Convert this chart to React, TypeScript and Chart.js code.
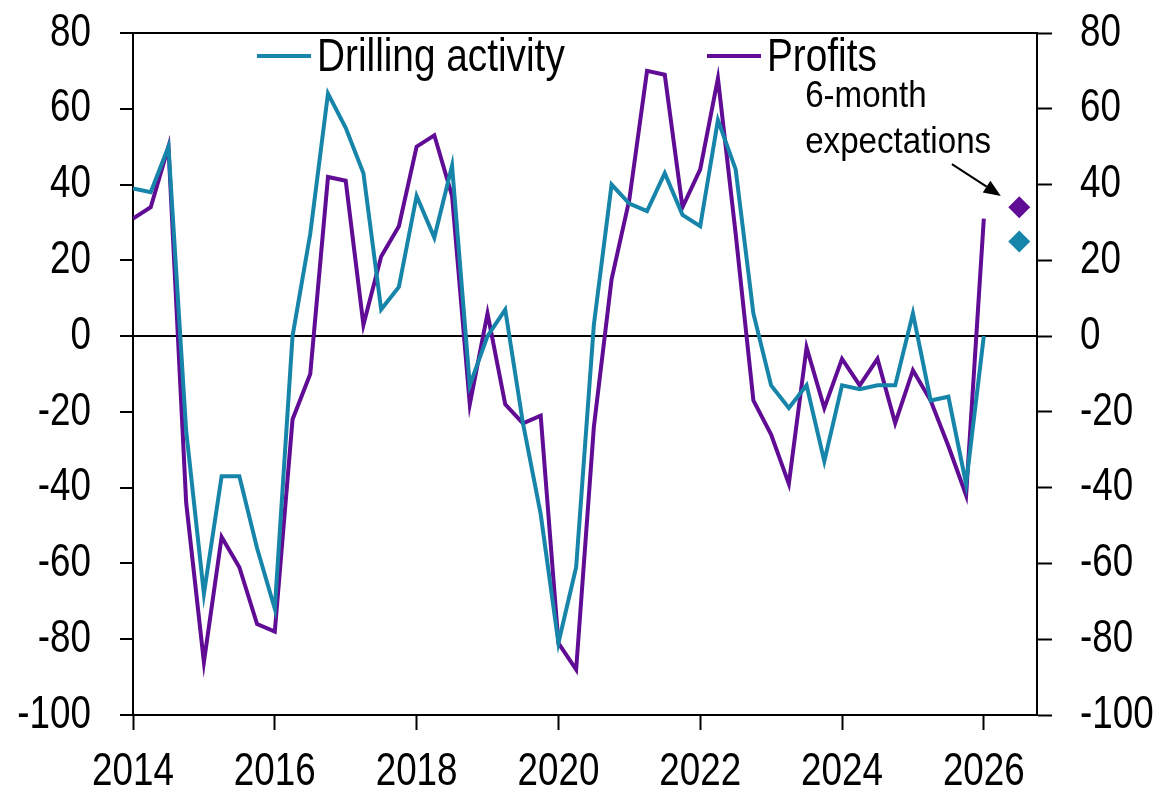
import { useEffect, useRef } from "react";
import { Chart, registerables } from "chart.js";

Chart.register(...registerables);

// Quarter start dates (decimal years), 2014Q1 .. 2026Q1
const quarters = [
  2014, 2014.25, 2014.5, 2014.75,
  2015, 2015.25, 2015.5, 2015.75,
  2016, 2016.25, 2016.5, 2016.75,
  2017, 2017.25, 2017.5, 2017.75,
  2018, 2018.25, 2018.5, 2018.75,
  2019, 2019.25, 2019.5, 2019.75,
  2020, 2020.25, 2020.5, 2020.75,
  2021, 2021.25, 2021.5, 2021.75,
  2022, 2022.25, 2022.5, 2022.75,
  2023, 2023.25, 2023.5, 2023.75,
  2024, 2024.25, 2024.5, 2024.75,
  2025, 2025.25, 2025.5, 2025.75,
  2026,
];

const drillingActivity = [
  39, 38, 50, -25,
  -68, -37, -37, -56,
  -72, 0, 27, 64,
  55, 43, 7, 13,
  37, 26, 45, -13,
  0, 7, -23, -47,
  -81, -61, 3, 40,
  35, 33, 43, 32,
  29, 57, 44, 6,
  -13, -19, -13, -33,
  -13, -14, -13, -13,
  6, -17, -16, -39,
  0,
];

const profits = [
  31, 34, 50, -44,
  -86, -53, -61, -76,
  -78, -22, -10, 42,
  41, 3, 21, 29,
  50, 53, 37, -18,
  6, -18, -23, -21,
  -81, -88, -24, 15,
  36, 70, 69, 34,
  44, 68, 27, -17,
  -26, -39, -3, -19,
  -6, -13, -6, -23,
  -9, -17, -29, -42,
  31,
];

// 6-month expectations
const expectationDate = 2026.5;
const drillingExpectation = 25;
const profitsExpectation = 34;

const xTickYears = [2014, 2016, 2018, 2020, 2022, 2024, 2026];
const yTicks = [-100, -80, -60, -40, -20, 0, 20, 40, 60, 80];

const seriesLabels = ["Drilling activity", "Profits"];
const annotationLines = ["6-month", "expectations"];

const TEAL = "#1785a9";
const PURPLE = "#600c94";
const FONT = '"Liberation Sans", Arial, sans-serif';

function drawText(ctx: any, text: string, x: number, y: number, align: string, baseline: string, size: number, sx: number) {
  ctx.save();
  ctx.translate(x, y);
  ctx.scale(sx, 1);
  ctx.font = `${size}px ${FONT}`;
  ctx.textAlign = align;
  ctx.textBaseline = baseline;
  ctx.fillStyle = "#000";
  ctx.fillText(text, 0, 0);
  ctx.restore();
}

const overlayPlugin = {
  id: "overlay",
  afterDraw(chart: any) {
    const { ctx, chartArea, scales } = chart;
    const xs = scales.x;
    const ys = scales.y;
    ctx.save();
    // top frame
    ctx.strokeStyle = "#000";
    ctx.lineWidth = 2;
    ctx.beginPath();
    ctx.moveTo(chartArea.left, chartArea.top);
    ctx.lineTo(chartArea.right, chartArea.top);
    ctx.stroke();

    // tick labels (condensed)
    const TICK_SIZE = 46;
    const TICK_SX = 0.8;
    for (const v of yTicks) {
      const py = ys.getPixelForValue(v);
      drawText(ctx, String(v), chartArea.left - 42, py, "right", "middle", TICK_SIZE, TICK_SX);
      drawText(ctx, String(v), chartArea.right + 43, py, "left", "middle", TICK_SIZE, TICK_SX);
    }
    for (const v of xTickYears) {
      const px = xs.getPixelForValue(v);
      drawText(ctx, String(v), px, chartArea.bottom + 57, "center", "middle", TICK_SIZE, TICK_SX);
    }

    // legend
    const legendY = chartArea.top + 23;
    const items = [
      { start: chartArea.left + 124, color: TEAL, text: seriesLabels[0] },
      { start: chartArea.left + 574, color: PURPLE, text: seriesLabels[1] },
    ];
    for (const it of items) {
      ctx.strokeStyle = it.color;
      ctx.lineWidth = 4;
      ctx.beginPath();
      ctx.moveTo(it.start, legendY);
      ctx.lineTo(it.start + 54, legendY);
      ctx.stroke();
      drawText(ctx, it.text, it.start + 60, legendY + 2, "left", "middle", 47, 0.825);
    }

    // annotation text
    const tx = xs.getPixelForValue(2023.48);
    drawText(ctx, annotationLines[0], tx, ys.getPixelForValue(60.5), "left", "alphabetic", 36, 0.92);
    drawText(ctx, annotationLines[1], tx, ys.getPixelForValue(48.3), "left", "alphabetic", 36, 0.92);

    // arrow
    const x0 = xs.getPixelForValue(2025.55);
    const y0 = ys.getPixelForValue(45.4);
    const x1 = xs.getPixelForValue(2026.24);
    const y1 = ys.getPixelForValue(37);
    const ang = Math.atan2(y1 - y0, x1 - x0);
    const headLen = 17;
    const headW = 7;
    const bx = x1 - headLen * Math.cos(ang);
    const by = y1 - headLen * Math.sin(ang);
    ctx.strokeStyle = "#000";
    ctx.lineWidth = 2;
    ctx.beginPath();
    ctx.moveTo(x0, y0);
    ctx.lineTo(bx, by);
    ctx.stroke();
    ctx.fillStyle = "#000";
    ctx.beginPath();
    ctx.moveTo(x1, y1);
    ctx.lineTo(bx + headW * Math.sin(ang), by - headW * Math.cos(ang));
    ctx.lineTo(bx - headW * Math.sin(ang), by + headW * Math.cos(ang));
    ctx.closePath();
    ctx.fill();
    ctx.restore();
  },
};

export default function App() {
  const canvasRef = useRef<HTMLCanvasElement | null>(null);

  useEffect(() => {
    document.body.style.margin = "0";
    const canvas = canvasRef.current;
    if (!canvas) return;

    const drillPts = quarters.map((q, i) => ({ x: q, y: drillingActivity[i] }));
    const profitPts = quarters.map((q, i) => ({ x: q, y: profits[i] }));

    const chart = new Chart(canvas, {
      type: "line",
      data: {
        datasets: [
          {
            label: seriesLabels[0],
            data: drillPts,
            borderColor: TEAL,
            backgroundColor: TEAL,
            borderWidth: 4,
            pointRadius: 0,
            tension: 0,
            yAxisID: "y",
          },
          {
            label: seriesLabels[1],
            data: profitPts,
            borderColor: PURPLE,
            backgroundColor: PURPLE,
            borderWidth: 4,
            pointRadius: 0,
            tension: 0,
            yAxisID: "y",
          },
          {
            label: "Profits expectation",
            data: [{ x: expectationDate, y: profitsExpectation }],
            showLine: false,
            pointStyle: "rectRot",
            pointRadius: 11,
            borderWidth: 0,
            backgroundColor: PURPLE,
            borderColor: PURPLE,
            yAxisID: "y",
          },
          {
            label: "Drilling expectation",
            data: [{ x: expectationDate, y: drillingExpectation }],
            showLine: false,
            pointStyle: "rectRot",
            pointRadius: 11,
            borderWidth: 0,
            backgroundColor: TEAL,
            borderColor: TEAL,
            yAxisID: "y",
          },
        ],
      },
      options: {
        animation: false,
        responsive: true,
        maintainAspectRatio: false,
        layout: { padding: { top: 33, left: 0, right: 0, bottom: 0 } },
        plugins: {
          legend: { display: false },
          tooltip: { enabled: false },
          title: { display: false },
        },
        scales: {
          x: {
            type: "linear",
            min: 2014,
            max: 2026.75,
            afterBuildTicks: (scale: any) => {
              scale.ticks = xTickYears.map((v) => ({ value: v }));
            },
            afterFit: (scale: any) => {
              scale.height = 78;
            },
            ticks: { display: false },
            grid: {
              drawOnChartArea: false,
              tickLength: 15,
              tickColor: "#000",
              tickWidth: 2,
            },
            border: { display: true, color: "#000", width: 2 },
          },
          y: {
            type: "linear",
            position: "left",
            min: -100,
            max: 80,
            afterBuildTicks: (scale: any) => {
              scale.ticks = yTicks.map((v) => ({ value: v }));
            },
            afterFit: (scale: any) => {
              scale.width = 133;
            },
            ticks: { display: false },
            grid: {
              drawOnChartArea: true,
              color: (c: any) => (c.tick && c.tick.value === 0 ? "#000" : "rgba(0,0,0,0)"),
              lineWidth: 2,
              tickLength: 13,
              tickColor: "#000",
              tickWidth: 2,
            },
            border: { display: true, color: "#000", width: 2 },
          },
          y2: {
            type: "linear",
            position: "right",
            min: -100,
            max: 80,
            afterBuildTicks: (scale: any) => {
              scale.ticks = yTicks.map((v) => ({ value: v }));
            },
            afterFit: (scale: any) => {
              scale.width = 123;
            },
            ticks: { display: false },
            grid: {
              drawOnChartArea: false,
              tickLength: 15,
              tickColor: "#000",
              tickWidth: 2,
            },
            border: { display: true, color: "#000", width: 2 },
          },
        },
      },
      plugins: [overlayPlugin],
    } as any);

    return () => {
      chart.destroy();
    };
  }, []);

  return (
    <div style={{ position: "fixed", left: 0, top: 0, width: 1160, height: 793 }}>
      <canvas ref={canvasRef} />
    </div>
  );
}
